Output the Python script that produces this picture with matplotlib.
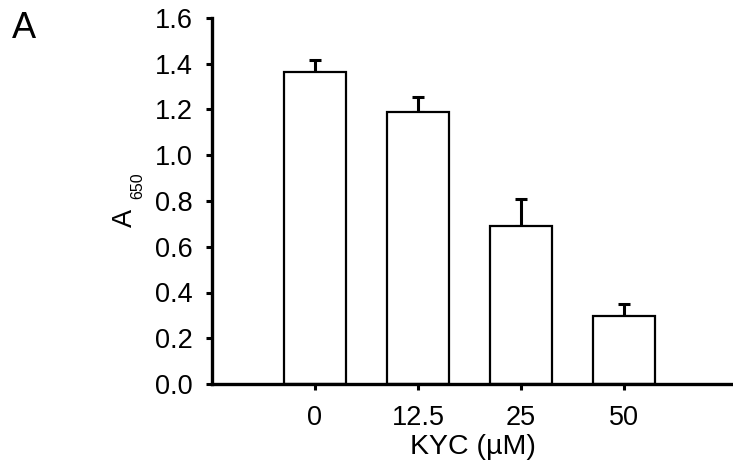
import matplotlib
matplotlib.use("Agg")
import matplotlib.pyplot as plt
import numpy as np

plt.rcParams['font.family'] = ['Liberation Sans', 'DejaVu Sans']

# --- data ---
conc_labels = ['0', '12.5', '25', '50']
a650 = [1.363, 1.188, 0.691, 0.296]
a650_err = [0.052, 0.068, 0.119, 0.054]
W, H = 733, 476

fig = plt.figure(figsize=(W / 100, H / 100), dpi=100)
ax = fig.add_axes([212 / W, 92 / H, 1 - 212 / W, 366 / H])

x = np.arange(len(conc_labels))
ax.bar(x, a650, width=0.6, color='white', edgecolor='black', linewidth=1.6, zorder=2)
ax.errorbar(x, a650, yerr=[np.zeros(len(a650)), a650_err], fmt='none',
            ecolor='black', elinewidth=2.2, capsize=4, capthick=2.2, zorder=1)

ax.set_xlim(-1.0, 4.06)
ax.set_ylim(0, 1.6)
yt = np.arange(0, 1.61, 0.2)
ax.set_yticks(yt)
ax.set_yticklabels([f"{v:.1f}" for v in yt])
ax.set_xticks(x)
ax.set_xticklabels(conc_labels)

for s in ['top', 'right']:
    ax.spines[s].set_visible(False)
for s in ['left', 'bottom']:
    ax.spines[s].set_linewidth(2.4)

ax.tick_params(axis='both', labelsize=19.5, width=2.2, length=4, direction='out')
ax.tick_params(axis='y', pad=10)
ax.tick_params(axis='x', pad=11)

ax.set_xlabel("KYC (µM)", fontsize=20.5, labelpad=2)

# y label: "A" with a small "650" subscript
fig.text(125 / W, 1 - 218 / H, "A", fontsize=19.5, rotation=90, ha='center', va='center')
fig.text(138 / W, 1 - 186 / H, "650", fontsize=11.5, rotation=90, ha='center', va='center')

fig.text(12 / W, 1 - 38 / H, "A", fontsize=26, ha='left', va='baseline')

fig.savefig("out.png", dpi=100)
